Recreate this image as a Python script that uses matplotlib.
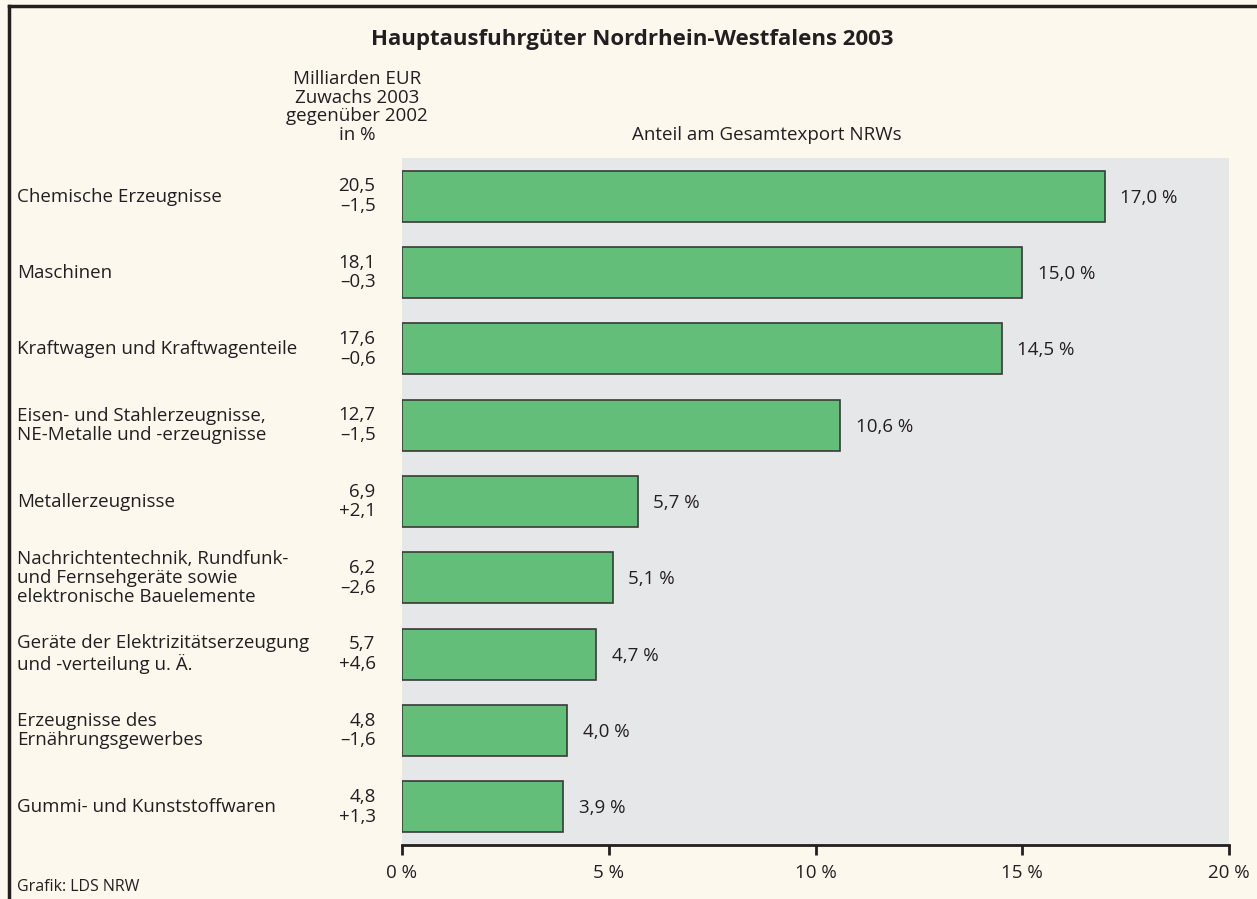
import matplotlib
matplotlib.use("Agg")
import matplotlib.pyplot as plt
from matplotlib.lines import Line2D

plt.rcParams['font.family'] = ['Open Sans', 'DejaVu Sans']

# data
categories = [
    "Chemische Erzeugnisse",
    "Maschinen",
    "Kraftwagen und Kraftwagenteile",
    "Eisen- und Stahlerzeugnisse,\nNE-Metalle und -erzeugnisse",
    "Metallerzeugnisse",
    "Nachrichtentechnik, Rundfunk-\nund Fernsehgeräte sowie\nelektronische Bauelemente",
    "Geräte der Elektrizitätserzeugung\nund -verteilung u. Ä.",
    "Erzeugnisse des\nErnährungsgewerbes",
    "Gummi- und Kunststoffwaren",
]
anteil = [17.0, 15.0, 14.5, 10.6, 5.7, 5.1, 4.7, 4.0, 3.9]
milliarden = [20.5, 18.1, 17.6, 12.7, 6.9, 6.2, 5.7, 4.8, 4.8]
zuwachs = [-1.5, -0.3, -0.6, -1.5, 2.1, -2.6, 4.6, -1.6, 1.3]
xticks = [0, 5, 10, 15, 20]

txt = "#231f20"
bg = "#fcf8ee"
fs = 13.5


def de(v, sign=False):
    s = f"{abs(v):.1f}".replace(".", ",")
    if sign:
        s = ("+" if v >= 0 else "\u2013") + s
    return s


fig = plt.figure(figsize=(12.57, 8.99), dpi=100, facecolor=bg)
W, H = 1257, 899
ax = fig.add_axes([402 / W, 1 - 845 / H, (1229 - 402) / W, (845 - 158) / H])
ax.set_facecolor("#e6e7e9")

y = list(range(len(categories)))
ax.barh(y, anteil, height=0.67, color="#62be78", edgecolor="#3a3a3a", linewidth=1.2, zorder=2)
ax.set_xlim(0, 20)
ax.set_ylim(len(categories) - 0.5, -0.5)

for i, v in enumerate(anteil):
    ax.annotate(de(v) + " %", (v, i), xytext=(11, -1), textcoords="offset points",
                va="center", ha="left", fontsize=fs, color=txt)
    ax.annotate(de(milliarden[i]) + "\n" + de(zuwachs[i], True), (0, i), xytext=(-19, 0),
                textcoords="offset points", va="center", ha="right", fontsize=fs,
                color=txt, linespacing=1.1, annotation_clip=False)
    ax.text(17 / W, 1 - (196.5 + i * 76.3) / H, categories[i], transform=fig.transFigure,
            va="center", ha="left", fontsize=fs, color=txt, linespacing=1.1)

for s in ["top", "right", "left"]:
    ax.spines[s].set_visible(False)
ax.spines["bottom"].set_linewidth(2)
ax.spines["bottom"].set_color(txt)
ax.set_yticks([])
ax.set_xticks(xticks)
ax.set_xticklabels([f"{t} %" for t in xticks], fontsize=fs, color=txt)
ax.tick_params(axis="x", direction="out", length=7, width=2, color=txt, pad=7)

fig.text(632 / W, 1 - 40 / H, "Hauptausfuhrgüter Nordrhein-Westfalens 2003",
         ha="center", va="center", fontsize=16, fontweight="bold", color=txt)
fig.text(357 / W, 1 - 107 / H, "Milliarden EUR\nZuwachs 2003\ngegenüber 2002\nin %",
         ha="center", va="center", fontsize=fs, color=txt, linespacing=1.04)
fig.text(767 / W, 1 - 135 / H, "Anteil am Gesamtexport NRWs",
         ha="center", va="center", fontsize=fs, color=txt)
fig.text(17 / W, 1 - 887 / H, "Grafik: LDS NRW", ha="left", va="center", fontsize=11.5, color=txt)

# frame, top and left
fig.add_artist(Line2D([9 / W, 9 / W], [0, 1 - 6 / H], transform=fig.transFigure, color=txt, lw=2.5))
fig.add_artist(Line2D([9 / W, 1], [1 - 6 / H, 1 - 6 / H], transform=fig.transFigure, color=txt, lw=2.5))

fig.savefig("out.png", dpi=100, facecolor=bg)
